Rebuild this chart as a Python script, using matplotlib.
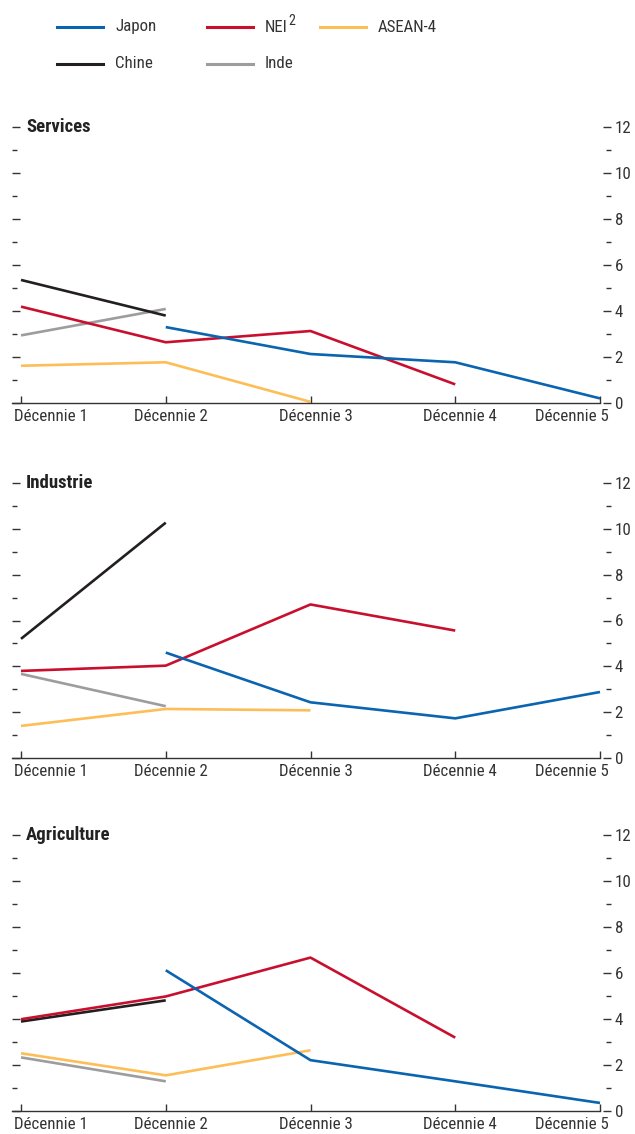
import matplotlib

matplotlib.use("Agg")

import matplotlib.pyplot as plt  # noqa: E402
import matplotlib.transforms as mtransforms  # noqa: E402
from matplotlib import font_manager  # noqa: E402
from matplotlib.lines import Line2D  # noqa: E402

nan = float("nan")

decades = ["Décennie 1", "Décennie 2", "Décennie 3", "Décennie 4", "Décennie 5"]
sectors = ["Services", "Industrie", "Agriculture"]

# one value per decade, nan where the series has no point
japon_services = [nan, 3.3, 2.13, 1.77, 0.2]
nei_services = [4.19, 2.64, 3.13, 0.81, nan]
asean_services = [1.62, 1.77, 0.05, nan, nan]
chine_services = [5.35, 3.8, nan, nan, nan]
inde_services = [2.94, 4.09, nan, nan, nan]

japon_industrie = [nan, 4.6, 2.43, 1.73, 2.88]
nei_industrie = [3.8, 4.03, 6.7, 5.56, nan]
asean_industrie = [1.4, 2.14, 2.08, nan, nan]
chine_industrie = [5.2, 10.27, nan, nan, nan]
inde_industrie = [3.67, 2.26, nan, nan, nan]

japon_agriculture = [nan, 6.12, 2.21, 1.29, 0.35]
nei_agriculture = [3.99, 4.98, 6.67, 3.19, nan]
asean_agriculture = [2.51, 1.55, 2.64, nan, nan]
chine_agriculture = [3.89, 4.81, nan, nan, nan]
inde_agriculture = [2.33, 1.29, nan, nan, nan]

panels = [
    {"inde": inde_services, "asean": asean_services, "chine": chine_services,
     "nei": nei_services, "japon": japon_services},
    {"inde": inde_industrie, "asean": asean_industrie, "chine": chine_industrie,
     "nei": nei_industrie, "japon": japon_industrie},
    {"inde": inde_agriculture, "asean": asean_agriculture, "chine": chine_agriculture,
     "nei": nei_agriculture, "japon": japon_agriculture},
]

COLORS = {
    "japon": "#0a64b0",
    "nei": "#c8102e",
    "asean": "#fdbe57",
    "chine": "#231f20",
    "inde": "#9d9d9f",
}
INK = "#333333"
W, H = 635, 1134
DPI = 100


# The original uses a condensed grotesque; take the narrowest installed face.
def pick_font():
    entries = font_manager.fontManager.ttflist
    names = {f.name for f in entries}
    for name in ("Liberation Sans Narrow", "Roboto Condensed", "Open Sans Condensed"):
        if name in names:
            return name, "normal", 12.2
    for f in entries:
        if ("Narrow" in f.name or "Condensed" in f.name) and "Mono" not in f.name:
            return f.name, "normal", 12.2
    for f in entries:
        if f.name == "DejaVu Sans" and f.stretch in ("condensed", "semi-condensed"):
            return "DejaVu Sans", "condensed", 10.5
    return "Liberation Sans", "normal", 11


FAMILY, STRETCH, FS = pick_font()
plt.rcParams["font.family"] = [FAMILY, "DejaVu Sans"]
plt.rcParams["font.stretch"] = STRETCH

fig = plt.figure(figsize=(W / DPI, H / DPI), dpi=DPI)

# (top pixel, bottom pixel) of each panel's 0..12 range
panel_px = [(127, 403), (483, 758), (835, 1111)]
left_px, right_px = 12, 600

for (top, bottom), name, series in zip(panel_px, sectors, panels):
    ax = fig.add_axes([left_px / W, (H - bottom) / H,
                       (right_px - left_px) / W, (bottom - top) / H])
    x = range(len(decades))
    for key, values in series.items():
        ax.plot(x, values, color=COLORS[key], linewidth=1.9,
                solid_capstyle="butt", clip_on=False)

    ax.set_xlim(-9 / 144.75, 4)
    ax.set_ylim(0, 12)
    for side in ("top", "left", "right"):
        ax.spines[side].set_visible(False)
    ax.spines["bottom"].set_color(INK)
    ax.spines["bottom"].set_linewidth(1)

    ax.set_xticks(list(x))
    ax.set_xticklabels(decades, fontsize=FS, color=INK)
    ax.tick_params(axis="x", direction="in", length=5, width=1, color=INK, pad=4.5)
    labels = ax.get_xticklabels()
    shifts = [-7, 5, 5, 5, 9]
    for lab, dx in zip(labels, shifts):
        lab.set_transform(lab.get_transform()
                          + mtransforms.ScaledTranslation(dx / DPI, 0, fig.dpi_scale_trans))
    labels[0].set_ha("left")
    labels[-1].set_ha("right")

    # left: unlabelled ticks drawn inside, right: labelled ticks
    ax.yaxis.set_ticks_position("both")
    ax.set_yticks(range(0, 13, 2))
    ax.set_yticks(range(1, 13, 2), minor=True)
    ax.spines["right"].set_position(("outward", 8))
    ax.tick_params(axis="y", which="both", direction="in", width=1, color=INK,
                   labelleft=False, labelright=True, labelsize=FS,
                   labelcolor=INK, pad=2.5)
    ax.tick_params(axis="y", which="major", length=6)
    ax.tick_params(axis="y", which="minor", length=3.5)

    ax.text(14 / (right_px - left_px), 12, name, transform=ax.get_yaxis_transform(),
            fontsize=13.5, fontweight="bold", color="#222222",
            va="center", ha="left")

# legend, laid out by hand to match the original spacing
legend_items = [
    ("japon", "Japon", 57, 27),
    ("nei", "NEI", 207, 27),
    ("asean", "ASEAN-4", 320, 27),
    ("chine", "Chine", 57, 64),
    ("inde", "Inde", 207, 64),
]
for key, label, xpx, ypx in legend_items:
    yf = 1 - ypx / H
    fig.add_artist(Line2D([xpx / W, (xpx + 46) / W], [yf, yf],
                          color=COLORS[key], linewidth=2.2,
                          transform=fig.transFigure))
    t = fig.text((xpx + 58) / W, yf, label, fontsize=FS, color=INK,
                 va="center", ha="left")
    if key == "nei":
        fig.canvas.draw()
        bb = t.get_window_extent()
        fig.text((bb.x1 + 1) / W, yf + 6 / H, "2", fontsize=FS - 2, color=INK,
                 va="center", ha="left")

fig.savefig("out.png", dpi=DPI)
